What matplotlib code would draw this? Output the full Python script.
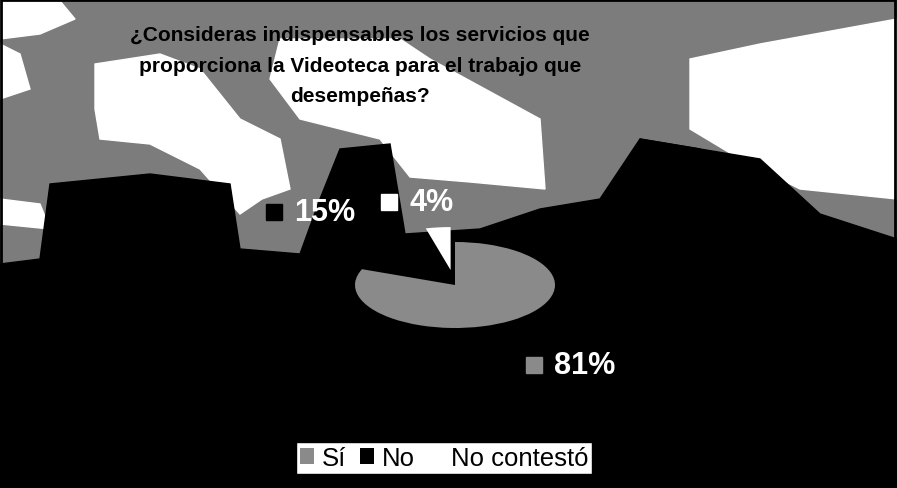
import matplotlib.pyplot as plt
from matplotlib.patches import Polygon, Rectangle, Patch

plt.rcParams['font.family'] = ['Liberation Sans', 'DejaVu Sans']

# encuesta Videoteca
categorias = ['Sí', 'No', 'No contestó']
porcentajes = [81, 15, 4]
colores = ['#8a8a8a', '#000000', '#ffffff']
titulo = '¿Consideras indispensables los servicios que\nproporciona la Videoteca para el trabajo que\ndesempeñas?'

W, H = 897, 489
fig = plt.figure(figsize=(W / 100, H / 100), dpi=100)

### fondo (foto) en coordenadas de pixel
bg = fig.add_axes([0, 0, 1, 1])
bg.set_xlim(0, W)
bg.set_ylim(H, 0)
bg.axis('off')

bg.add_patch(Rectangle((0, 0), W, H, color='#7c7c7c', zorder=0))
blancos = [
    [(0, 2), (60, 2), (75, 20), (40, 35), (0, 40)],
    [(95, 65), (160, 55), (200, 70), (240, 120), (280, 140), (290, 190), (262, 200),
     (240, 215), (200, 170), (150, 145), (100, 140), (95, 110)],
    [(280, 40), (400, 40), (430, 60), (540, 120), (545, 190), (470, 183),
     (410, 178), (380, 140), (300, 120), (270, 80)],
    [(690, 60), (760, 45), (897, 20), (897, 200), (800, 190), (740, 160), (690, 130)],
    [(0, 45), (20, 55), (30, 90), (0, 100)],
    [(0, 200), (40, 205), (50, 230), (0, 225)],
]
for pts in blancos:
    bg.add_patch(Polygon(pts, closed=True, color='white', zorder=1))

negros = [
    [(0, 265), (40, 260), (50, 185), (150, 175), (230, 185), (240, 250), (300, 255),
     (320, 200), (340, 150), (390, 145), (405, 235), (480, 230), (540, 210), (600, 200),
     (640, 140), (700, 150), (760, 160), (820, 215), (897, 240), (897, H), (0, H)],
    [(640, 140), (700, 150), (700, 250), (640, 250)],
]
for pts in negros:
    bg.add_patch(Polygon(pts, closed=True, color='black', zorder=2))

# marco
bg.add_patch(Rectangle((1, 1), W - 3, H - 6, fill=False, edgecolor='black', linewidth=2, zorder=10))

### pastel aplanado (perspectiva)
cx, cy, rx, ry = 455, 286, 100, 43
lim = 1.6
ax = fig.add_axes([(cx - lim * rx) / W, (H - cy - lim * ry) / H, 2 * lim * rx / W, 2 * lim * ry / H])
ax.pie(porcentajes, colors=colores, startangle=90, counterclock=False,
       explode=[0, 0.15, 0.35], wedgeprops=dict(linewidth=0))
ax.set_aspect('auto')
ax.set_xlim(-lim, lim)
ax.set_ylim(-lim, lim)
ax.axis('off')

### titulo
fig.text(360 / W, 1 - 66 / H, titulo, ha='center', va='center', fontsize=15,
         fontweight='bold', color='black', linespacing=1.75)

### etiquetas de datos con clave de color
etiquetas = ['81%', '15%', '4%']
pos_x = [534, 274, 389]
pos_y = [366, 213, 203]
for txt, x, y, c in zip(etiquetas, pos_x, pos_y, colores):
    bg.add_patch(Rectangle((x - 8, y - 8), 16, 16, color=c, zorder=5))
    bg.text(x + 20, y, txt, fontsize=22, fontweight='bold', color='white',
            ha='left', va='center', zorder=6)

### leyenda
handles = [Patch(facecolor=c, edgecolor='none') for c in colores]
fig.legend(handles, categorias, loc='center', bbox_to_anchor=(444 / W, 1 - 459 / H),
           ncol=3, fontsize=18.5, frameon=True, fancybox=False, edgecolor='black',
           framealpha=1, handlelength=0.55, handleheight=0.55, handletextpad=0.3,
           columnspacing=0.55, borderpad=0.15)

plt.savefig('out.png', dpi=100)
